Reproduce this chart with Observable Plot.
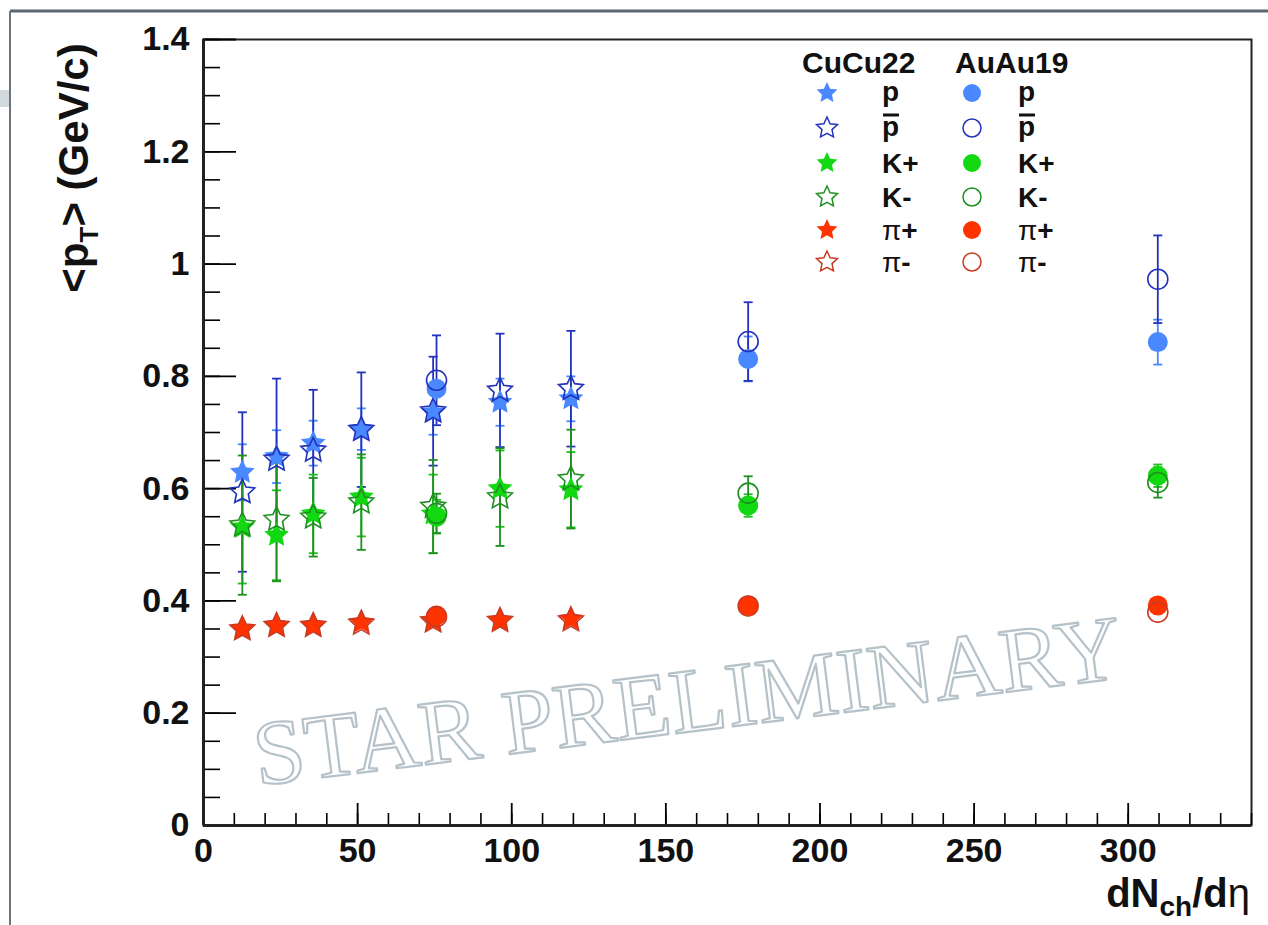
<!DOCTYPE html>
<html><head><meta charset="utf-8">
<script src="https://cdn.jsdelivr.net/npm/d3@7"></script>
<script src="https://cdn.jsdelivr.net/npm/@observablehq/plot@0.6"></script>
<style>body{margin:0;background:#fff;} #chart svg{display:block;}</style>
</head><body><div id="chart"></div>
<script>
// ---- data ----
const cuX      = [12.6, 23.7, 35.6, 51.2, 74.5, 96.2, 119.2];
const cuP      = [0.629, 0.657, 0.681, 0.706, 0.736, 0.754, 0.760];
const cuPErr   = [0.050, 0.047, 0.040, 0.037, 0.040, 0.042, 0.040];
const cuPbar   = [0.594, 0.652, 0.668, 0.705, 0.738, 0.775, 0.778];
const cuPbarErr= [0.142, 0.144, 0.108, 0.102, 0.097, 0.101, 0.103];
const cuKp     = [0.531, 0.517, 0.555, 0.585, 0.555, 0.600, 0.598];
const cuKpErr  = [0.100, 0.080, 0.070, 0.070, 0.070, 0.068, 0.067];
const cuKm     = [0.535, 0.545, 0.549, 0.576, 0.568, 0.585, 0.617];
const cuKmErr  = [0.124, 0.110, 0.070, 0.085, 0.083, 0.087, 0.088];
const cuPip    = [0.350, 0.356, 0.356, 0.362, 0.365, 0.365, 0.368];
const cuPipErr = [0.004, 0.004, 0.004, 0.004, 0.004, 0.004, 0.004];
const cuPim    = [0.350, 0.356, 0.356, 0.360, 0.364, 0.365, 0.366];
const cuPimErr = [0.004, 0.004, 0.004, 0.004, 0.004, 0.004, 0.004];

const auX      = [75.6, 176.7, 309.6];
const auP      = [0.778, 0.831, 0.861];
const auPErr   = [0.012, 0.040, 0.040];
const auPbar   = [0.793, 0.862, 0.973];
const auPbarErr= [0.080, 0.070, 0.078];
const auKp     = [0.550, 0.570, 0.623];
const auKpErr  = [0.030, 0.020, 0.020];
const auKm     = [0.556, 0.592, 0.611];
const auKmErr  = [0.035, 0.030, 0.027];
const auPip    = [0.374, 0.392, 0.392];
const auPipErr = [0.003, 0.003, 0.003];
const auPim    = [0.372, 0.391, 0.380];
const auPimErr = [0.003, 0.003, 0.003];

const xMajor = [0, 50, 100, 150, 200, 250, 300];
const yMajor = [0, 0.2, 0.4, 0.6, 0.8, 1, 1.2, 1.4];
const xMinor = d3.range(0, 341, 10);
const yMinor = d3.range(0, 1.401, 0.05);

const systems = ["CuCu22", "AuAu19"];
const species = ["p", "pbar", "K+", "K-", "π+", "π-"];
const watermark = ["STAR PRELIMINARY"];

// ---- styles ----
const sty = {
  "p":    {color: "#4a88ff", err: "#4a88ff", filled: true},
  "pbar": {color: "#2232bb", err: "#2232bb", filled: false},
  "K+":   {color: "#12d812", err: "#18c018", filled: true},
  "K-":   {color: "#1f8f1f", err: "#1f8f1f", filled: false},
  "π+":   {color: "#ff3300", err: "#ff3300", filled: true},
  "π-":   {color: "#c83a22", err: "#c83a22", filled: false}
};

// ROOT-like fat five-pointed star
const starSymbol = {draw(ctx, size) {
  const R = Math.sqrt(size / Math.PI), ri = R * 0.48;
  for (let k = 0; k < 10; k++) {
    const rad = k % 2 ? ri : R, a = -Math.PI / 2 + k * Math.PI / 5;
    const px = rad * Math.cos(a), py = rad * Math.sin(a);
    k ? ctx.lineTo(px, py) : ctx.moveTo(px, py);
  }
  ctx.closePath();
}};
const sysSym = {"CuCu22": {symbol: starSymbol, r: 13, lr: 11}, "AuAu19": {symbol: d3.symbolCircle, r: 10, lr: 9}};

const series = [
  {sys: "CuCu22", sp: "p",    x: cuX, y: cuP,    e: cuPErr},
  {sys: "CuCu22", sp: "pbar", x: cuX, y: cuPbar, e: cuPbarErr},
  {sys: "CuCu22", sp: "K+",   x: cuX, y: cuKp,   e: cuKpErr},
  {sys: "CuCu22", sp: "K-",   x: cuX, y: cuKm,   e: cuKmErr},
  {sys: "CuCu22", sp: "π+",   x: cuX, y: cuPip,  e: cuPipErr},
  {sys: "CuCu22", sp: "π-",   x: cuX, y: cuPim,  e: cuPimErr},
  {sys: "AuAu19", sp: "p",    x: auX, y: auP,    e: auPErr},
  {sys: "AuAu19", sp: "pbar", x: auX, y: auPbar, e: auPbarErr},
  {sys: "AuAu19", sp: "K+",   x: auX, y: auKp,   e: auKpErr},
  {sys: "AuAu19", sp: "K-",   x: auX, y: auKm,   e: auKmErr},
  {sys: "AuAu19", sp: "π+",   x: auX, y: auPip,  e: auPipErr},
  {sys: "AuAu19", sp: "π-",   x: auX, y: auPim,  e: auPimErr}
].map(s => ({...s, rows: s.x.map((x, i) => ({x, y: s.y[i], lo: s.y[i] - s.e[i], hi: s.y[i] + s.e[i]}))}));

const capSymbol = {draw(ctx, size) { const w = Math.sqrt(size / Math.PI); ctx.moveTo(-w, 0); ctx.lineTo(w, 0); }};

const FONT = "Liberation Sans, Arial, Helvetica, sans-serif";
const fmt = d => String(+d.toFixed(2));

const errMarks = series.flatMap(s => [
  Plot.ruleX(s.rows, {x: "x", y1: "lo", y2: "hi", stroke: sty[s.sp].err, strokeWidth: 1.8}),
  Plot.dot(s.rows, {x: "x", y: "lo", symbol: capSymbol, r: 4.5, stroke: sty[s.sp].err, strokeWidth: 1.8, fill: "none"}),
  Plot.dot(s.rows, {x: "x", y: "hi", symbol: capSymbol, r: 4.5, stroke: sty[s.sp].err, strokeWidth: 1.8, fill: "none"})
]);
const dotMarks = series.map(s => {
  const st = sty[s.sp], sy = sysSym[s.sys];
  return Plot.dot(s.rows, {x: "x", y: "y", symbol: sy.symbol, r: sy.r,
    fill: st.filled ? st.color : "none",
    stroke: st.filled ? "none" : st.color,
    strokeWidth: 1.6});
});

const svg = Plot.plot({
  width: 1268, height: 925,
  marginLeft: 203, marginRight: 17, marginTop: 39, marginBottom: 100,
  style: {fontFamily: FONT, background: "white"},
  x: {domain: [0, 340]},
  y: {domain: [0, 1.4]},
  marks: [
    Plot.text(watermark, {text: d => d, frameAnchor: "bottom-left", dx: 54, dy: -40, rotate: -7.1,
      textAnchor: "start", lineAnchor: "bottom", fontSize: 92, fontFamily: "Liberation Serif, Times New Roman, serif",
      fill: "none", stroke: "#b5c2c9", strokeWidth: 2.2}),
    Plot.frame({stroke: "#222", strokeWidth: 2}),
    Plot.axisX(xMinor, {tickSize: -12, fill: "none", strokeWidth: 1.6, label: null}),
    Plot.axisX(xMajor, {tickSize: -22, fill: "none", strokeWidth: 1.8, label: null}),
    Plot.axisX(xMajor, {tickSize: 0, tickPadding: 12, tickFormat: fmt, fontSize: 34, fontWeight: "bold", fontFamily: FONT, fill: "#111", label: null}),
    Plot.axisY(yMinor, {tickSize: -17, fill: "none", strokeWidth: 1.6, label: null}),
    Plot.axisY(yMajor, {tickSize: -33, fill: "none", strokeWidth: 1.8, label: null}),
    Plot.axisY(yMajor, {tickSize: 0, tickPadding: 14, tickFormat: fmt, fontSize: 34, fontWeight: "bold", fontFamily: FONT, fill: "#111", label: null}),
    Plot.ruleX([0], {stroke: "#222", strokeWidth: 3}),
    Plot.ruleY([0], {stroke: "#222", strokeWidth: 3}),
    ...errMarks,
    ...dotMarks
  ]
});

const root = d3.select(svg);

// outer canvas border (slide frame)
root.append("rect").attr("x", 0).attr("y", 90).attr("width", 9).attr("height", 17).attr("fill", "#d3dade");
root.append("line").attr("x1", 10).attr("y1", 11).attr("x2", 1268).attr("y2", 11).attr("stroke", "#5b6770").attr("stroke-width", 3);
root.append("line").attr("x1", 10).attr("y1", 11).attr("x2", 10).attr("y2", 925).attr("stroke", "#6a757d").attr("stroke-width", 2);

// axis titles
const yl = root.append("text").attr("transform", "translate(88,168) rotate(-90)")
  .attr("text-anchor", "middle").attr("font-family", FONT).attr("font-weight", "bold").attr("font-size", 42).attr("fill", "#111");
yl.append("tspan").text("<p");
yl.append("tspan").attr("font-size", 26).attr("dy", 10).text("T");
yl.append("tspan").attr("dy", -10).text("> (GeV/c)");

const xl = root.append("text").attr("x", 1250).attr("y", 907)
  .attr("text-anchor", "end").attr("font-family", FONT).attr("font-weight", "bold").attr("font-size", 40).attr("fill", "#111");
xl.append("tspan").text("dN");
xl.append("tspan").attr("font-size", 28).attr("dy", 9).text("ch");
xl.append("tspan").attr("dy", -9).text("/d");
xl.append("tspan").attr("font-weight", "normal").text("η");

// legend
const lg = root.append("g").attr("font-family", FONT).attr("font-weight", "bold").attr("fill", "#111").attr("text-anchor", "start");
const colSym = [827, 972], colTxt = [882, 1018], headX = [802, 955];
const rowY = [93, 128, 163, 197, 230, 262];
systems.forEach((sys, c) => {
  lg.append("text").attr("x", headX[c]).attr("y", 73).attr("font-size", 30).text(sys);
  species.forEach((sp, r) => {
    const st = sty[sp], sy = sysSym[sys];
    lg.append("path").attr("transform", `translate(${colSym[c]},${rowY[r]})`)
      .attr("d", d3.symbol(sy.symbol, Math.PI * sy.lr * sy.lr)())
      .attr("fill", st.filled ? st.color : "none")
      .attr("stroke", st.filled ? "none" : st.color).attr("stroke-width", 1.5);
    const isP = sp === "p" || sp === "pbar";
    const base = rowY[r] + (isP ? 8 : 10);
    const t = lg.append("text").attr("x", colTxt[c]).attr("y", base).attr("font-size", 28);
    if (sp.startsWith("π")) {
      t.append("tspan").attr("font-weight", "normal").text("π");
      t.append("tspan").text(sp.slice(1));
    } else {
      t.text(sp === "pbar" ? "p" : sp);
    }
    if (sp === "pbar") {
      lg.append("line").attr("x1", colTxt[c] + 1).attr("x2", colTxt[c] + 17)
        .attr("y1", base - 21).attr("y2", base - 21).attr("stroke", "#111").attr("stroke-width", 3);
    }
  });
});

document.getElementById("chart").appendChild(svg);
</script>
</body></html>
